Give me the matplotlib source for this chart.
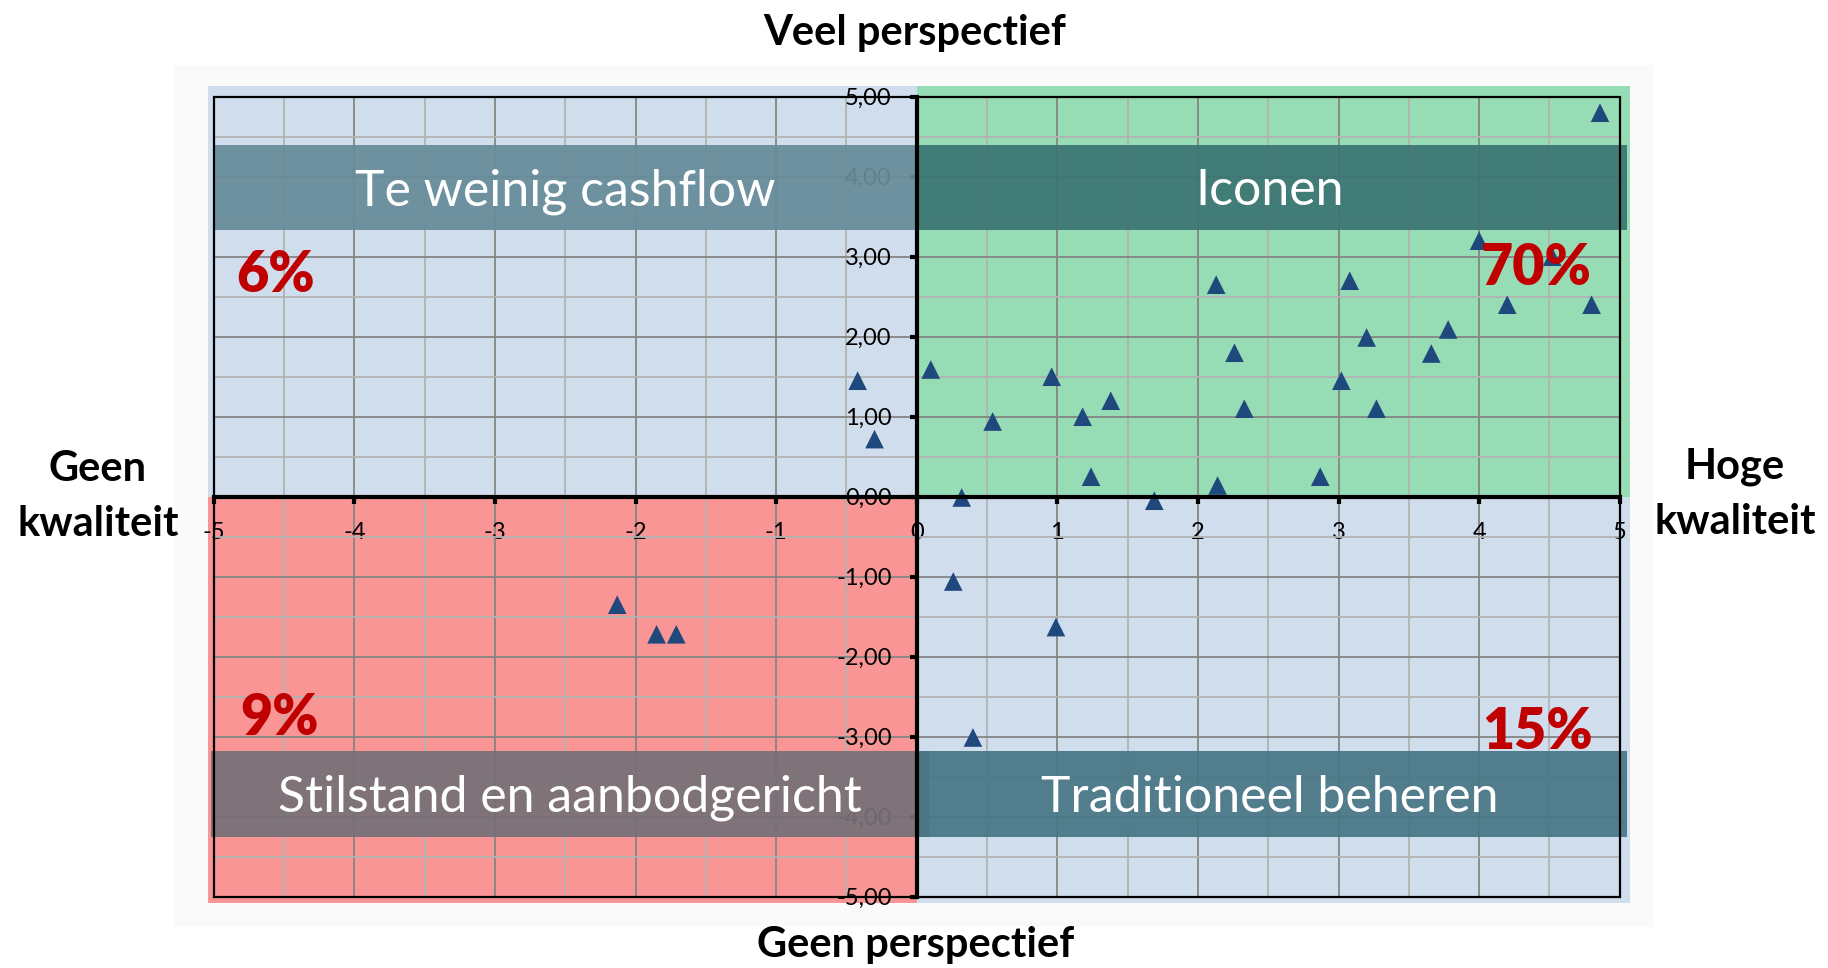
import matplotlib
matplotlib.use("Agg")
import matplotlib.pyplot as plt
from matplotlib.patches import Rectangle
from matplotlib.ticker import MultipleLocator, FuncFormatter

# kwaliteit (x) en perspectief (y) per object
kwaliteit = [-0.42, -0.30, 0.10, 0.54, 0.96, 1.18, 1.38, 1.24, 0.32, 1.69,
             2.13, 2.14, 2.26, 3.08, 4.20, 4.80, 3.78, 3.20, 3.66, 3.02,
             2.33, 3.27, 2.87, 4.86, 4.00, 4.52, 0.26, 0.99, 0.40,
             -2.13, -1.85, -1.71]
perspectief = [1.45, 0.72, 1.59, 0.94, 1.50, 1.00, 1.20, 0.25, -0.01, -0.05,
               2.65, 0.14, 1.80, 2.70, 2.40, 2.40, 2.09, 1.99, 1.79, 1.45,
               1.10, 1.10, 0.25, 4.80, 3.20, 3.00, -1.06, -1.63, -3.01,
               -1.35, -1.72, -1.72]

kwadrant_namen = ["Te weinig cashflow", "Iconen", "Stilstand en aanbodgericht", "Traditioneel beheren"]
kwadrant_pct = ["6%", "70%", "9%", "15%"]

W, H = 1828, 968
fig = plt.figure(figsize=(W / 100, H / 100), dpi=100)
plt.rcParams['font.family'] = ['Lato', 'DejaVu Sans']

def fx(px):
    return px / W

def fy(py):
    return 1 - py / H

# faint panel behind the chart
fig.add_artist(Rectangle((fx(175), fy(927)), fx(1653) - fx(175), fy(65) - fy(927),
                         transform=fig.transFigure, facecolor='#fafafa',
                         edgecolor='none', zorder=-10))

ax = fig.add_axes([fx(213.7), fy(896.7), fx(1619.7) - fx(213.7), fy(96.7) - fy(896.7)])
ax.set_xlim(-5, 5)
ax.set_ylim(-5, 5)
ax.patch.set_visible(False)

# quadrant fills
blauw = '#d0ddec'
ax.add_patch(Rectangle((-5.04, 0), 5.04, 5.13, facecolor=blauw, edgecolor='none', zorder=0.2, clip_on=False))
ax.add_patch(Rectangle((0, 0), 5.07, 5.13, facecolor='#96dcb4', edgecolor='none', zorder=0.2, clip_on=False))
ax.add_patch(Rectangle((-5.04, -5.08), 5.04, 5.08, facecolor='#f99595', edgecolor='none', zorder=0.2, clip_on=False))
ax.add_patch(Rectangle((0, -5.08), 5.07, 5.08, facecolor=blauw, edgecolor='none', zorder=0.2, clip_on=False))

# grid
ax.set_axisbelow(True)
ax.xaxis.set_major_locator(MultipleLocator(1))
ax.yaxis.set_major_locator(MultipleLocator(1))
ax.xaxis.set_minor_locator(MultipleLocator(0.5))
ax.yaxis.set_minor_locator(MultipleLocator(0.5))
ax.grid(which='major', color='#858585', linewidth=1.3)
ax.grid(which='minor', color='#b2b2b2', linewidth=1.3)
ax.tick_params(which='minor', length=0)

# axes through the origin
for s in ['top', 'right']:
    ax.spines[s].set_visible(False)
ax.spines['left'].set_position(('data', 0))
ax.spines['bottom'].set_position(('data', 0))
ax.spines['left'].set_linewidth(3)
ax.spines['bottom'].set_linewidth(3)
ax.spines['left'].set_zorder(3)
ax.spines['bottom'].set_zorder(3)
ax.add_patch(Rectangle((0, 0), 1, 1, transform=ax.transAxes, fill=False,
                       edgecolor='black', linewidth=1.6, zorder=3, clip_on=False))

ax.tick_params(which='major', direction='out', length=5, width=3, color='black',
               labelsize=17, pad=13)
ax.yaxis.set_major_formatter(FuncFormatter(lambda v, p: f"{v:.2f}".replace('.', ',')))
ax.xaxis.set_major_formatter(FuncFormatter(lambda v, p: f"{v:.0f}"))

# banners
banners = [(-5.0, 3.33, 5.0, 1.07, '#678c99'),
           (0.0, 3.33, 5.05, 1.07, '#3c7573'),
           (-5.02, -4.25, 5.11, 1.07, '#767076'),
           (0.0, -4.25, 5.05, 1.07, '#477686')]
for (x0, y0, w, h, c) in banners:
    ax.add_patch(Rectangle((x0, y0), w, h, facecolor=c, edgecolor='none',
                           alpha=0.93, zorder=1, clip_on=False))

tekst_pos = [(-2.50, 3.64), (2.51, 3.64), (-2.47, -3.93), (2.51, -3.94)]
for naam, (tx, ty) in zip(kwadrant_namen, tekst_pos):
    ax.text(tx, ty, naam, color='white', fontsize=36, ha='center', va='baseline', zorder=5)

ax.scatter(kwaliteit, perspectief, marker='^', s=180, color='#1f497d',
           edgecolors='none', zorder=2.6, clip_on=False)

pct_pos = [(-4.84, 2.56), (4.01, 2.65), (-4.81, -2.98), (4.02, -3.155)]
for pct, (tx, ty) in zip(kwadrant_pct, pct_pos):
    ax.text(tx, ty, pct, color='#c00000', fontsize=40, fontweight='heavy',
            ha='left', va='baseline', zorder=5)

# axis titles
kw = dict(fontsize=30, fontweight='bold', color='black', ha='center', va='baseline')
fig.text(fx(915), fy(45), "Veel perspectief", **kw)
fig.text(fx(916), fy(957), "Geen perspectief", **kw)
fig.text(fx(98), fy(481), "Geen", **kw)
fig.text(fx(98), fy(536), "kwaliteit", **kw)
fig.text(fx(1735), fy(479), "Hoge", **kw)
fig.text(fx(1735), fy(534), "kwaliteit", **kw)

fig.savefig("out.png", dpi=100, facecolor='white')
